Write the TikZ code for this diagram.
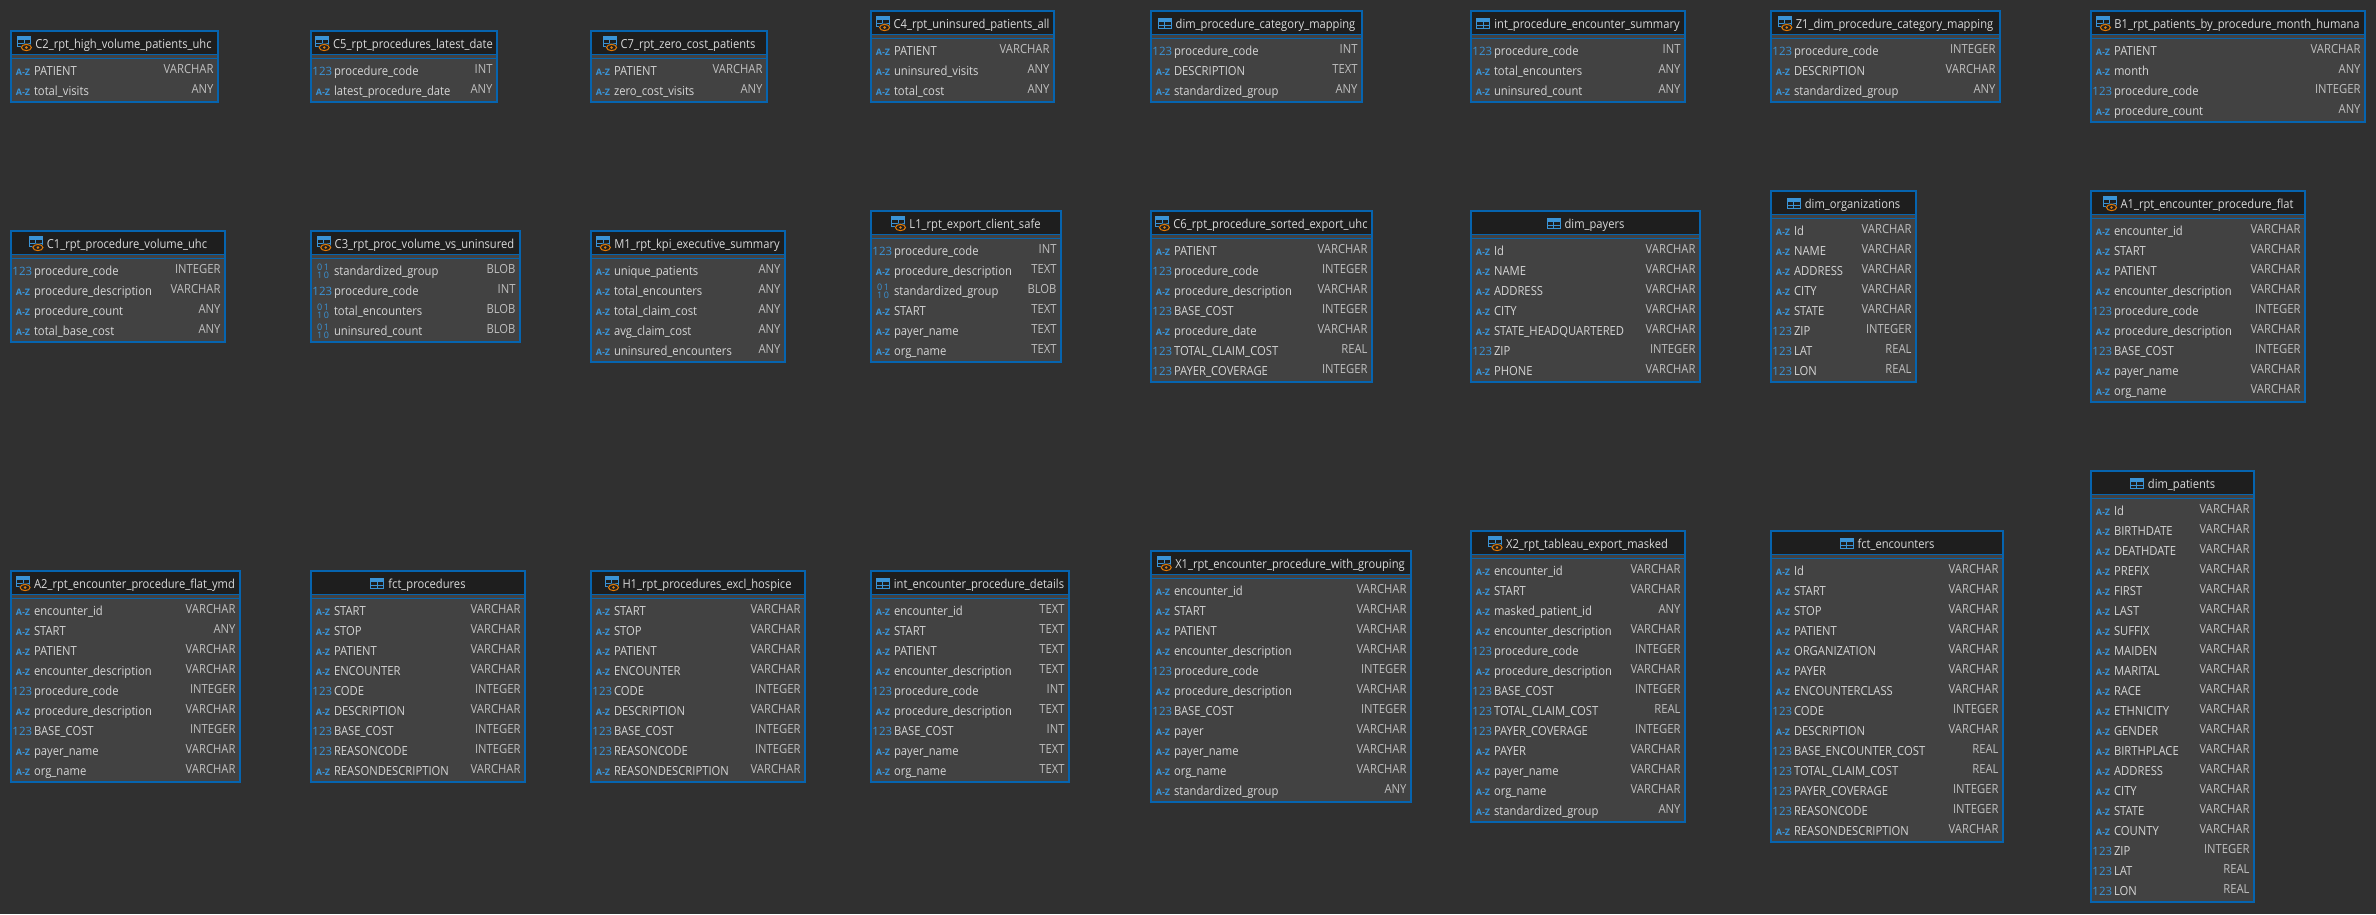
\documentclass[tikz,border=0pt]{standalone}
\usepackage{fontspec}
\setmainfont{Open Sans}[FakeStretch=0.9]
\newfontfamily\iconface{Open Sans}[FakeStretch=1.0]
\definecolor{canvasbg}{HTML}{303030}
\definecolor{bodybg}{HTML}{424242}
\definecolor{headbg}{HTML}{1E1E1E}
\definecolor{tblblue}{HTML}{0664AF}
\definecolor{iconblue}{HTML}{3A93D6}
\definecolor{iconorange}{HTML}{E07B0A}
\definecolor{nametxt}{HTML}{D6D6D6}
\definecolor{typetxt}{HTML}{C0C0C0}
\definecolor{titletxt}{HTML}{DADADA}
\tikzset{
  tablebox/.style={draw=tblblue,line width=2pt,fill=bodybg,rectangle,inner sep=0pt,outer sep=0pt,anchor=north west},
  headband/.style={fill=headbg,draw=none,rectangle,inner sep=0pt,outer sep=0pt,anchor=north west},
  tabletitle/.style={text=titletxt,font=\fontsize{12.4}{14}\selectfont,inner sep=0pt,outer sep=0pt,anchor=base},
  colname/.style={text=nametxt,font=\fontsize{12.5}{14}\selectfont,inner sep=0pt,outer sep=0pt,anchor=base west},
  coltype/.style={text=typetxt,font=\fontsize{12.5}{14}\selectfont,inner sep=0pt,outer sep=0pt,anchor=base east},
  azicon/.style={text=iconblue,font=\iconface\bfseries\fontsize{9}{10}\selectfont,inner sep=0pt,outer sep=0pt,anchor=base},
  numicon/.style={text=iconblue,font=\iconface\fontsize{11.5}{12}\selectfont,inner sep=0pt,outer sep=0pt,anchor=base},
  binicon/.style={text=iconblue,font=\iconface\fontsize{9}{10}\selectfont,inner sep=0pt,outer sep=0pt,anchor=base},
}
\newcommand{\iconrowa}[3]{\node[azicon] (#3) at (#1+13,#2-.3) {A-Z};}
\newcommand{\iconrown}[3]{\node[numicon] (#3) at (#1+12.3,#2+.3) {123};}
\newcommand{\iconrowb}[3]{%
  \node[binicon] (#3) at (#1+13,#2-5) {0\,1};
  \node[binicon] (#3x) at (#1+13,#2+2.5) {1\,0};}
% table glyph, drawn relative to the title's base west: top offset, height
\newcommand{\tableglyph}[2]{%
  \fill[iconblue] (-18,#1) rectangle ++(14,3.6);
  \draw[iconblue,line width=1pt] (-17.5,#1+1) rectangle (-4.5,#1+#2-.5);
  \draw[iconblue,line width=1pt] (-17.5,#1+3.6+#2/2-1.8) -- (-4.5,#1+3.6+#2/2-1.8)
     (-11,#1+3) -- (-11,#1+#2-.5);}
\newcommand{\viewglyph}{%
  \tableglyph{-12}{10.5}
  \fill[headbg] (-9,-.5) circle[x radius=6,y radius=4.2];
  \draw[iconorange,line width=1pt] (-9,-.5) circle[x radius=5,y radius=3.1];
  \fill[iconorange] (-9,-.5) circle[radius=1.4];}
% id, left, top, right, number of rows, kind (t or v), title, rows
\newcommand{\dbtable}[8]{%
  \pgfmathsetmacro{\tabw}{#4-#2-2}
  \pgfmathsetmacro{\tabh}{31+20*#5}
  \pgfmathsetmacro{\bandw}{#4-#2-4}
  \pgfmathsetmacro{\titlec}{(#2+#4)/2+9}
  \node[tablebox,minimum width=\tabw pt,minimum height=\tabh pt] (#1) at (#2+1,#3+1) {};
  \node[headband,minimum width=\bandw pt,minimum height=22.5pt] (#1-head) at (#2+2,#3+2) {};
  \draw[tblblue,line width=1.3pt] (#2+1,#3+24.6) -- (#4-1,#3+24.6) (#2+1,#3+28.5) -- (#4-1,#3+28.5);
  \node[tabletitle] (#1-title) at (\titlec,#3+18) {#7};
  \begin{scope}[shift={(#1-title.base west)}]
    \if#6v\viewglyph\else\tableglyph{-10}{11}\fi
  \end{scope}
  \foreach \k/\n/\t [count=\i] in {#8} {
    \pgfmathsetmacro{\rowy}{#3+45.5+20*(\i-1)}
    \node[colname] (#1-n\i) at (#2+24,\rowy) {\n};
    \node[coltype] (#1-t\i) at (#4-5.5,\rowy-2) {\t};
    \csname iconrow\k\endcsname{#2}{\rowy}{#1-i\i}
  }
}
\catcode`\_=12
\begin{document}
\begin{tikzpicture}[x=1pt,y=-1pt]
\fill[canvasbg] (0,0) rectangle (2376,914);
\useasboundingbox (0,0) rectangle (2376,914);
\dbtable{c2}{10}{30}{219}{2}{v}{C2_rpt_high_volume_patients_uhc}{a/PATIENT/VARCHAR,a/total_visits/ANY}
\dbtable{c5}{310}{30}{498}{2}{v}{C5_rpt_procedures_latest_date}{n/procedure_code/INT,a/latest_procedure_date/ANY}
\dbtable{c7}{590}{30}{768}{2}{v}{C7_rpt_zero_cost_patients}{a/PATIENT/VARCHAR,a/zero_cost_visits/ANY}
\dbtable{c4}{870}{10}{1055}{3}{v}{C4_rpt_uninsured_patients_all}{a/PATIENT/VARCHAR,a/uninsured_visits/ANY,a/total_cost/ANY}
\dbtable{dpcm}{1150}{10}{1363}{3}{t}{dim_procedure_category_mapping}{n/procedure_code/INT,a/DESCRIPTION/TEXT,a/standardized_group/ANY}
\dbtable{ipes}{1470}{10}{1686}{3}{t}{int_procedure_encounter_summary}{n/procedure_code/INT,a/total_encounters/ANY,a/uninsured_count/ANY}
\dbtable{z1}{1770}{10}{2001}{3}{v}{Z1_dim_procedure_category_mapping}{n/procedure_code/INTEGER,a/DESCRIPTION/VARCHAR,a/standardized_group/ANY}
\dbtable{b1}{2090}{10}{2366}{4}{v}{B1_rpt_patients_by_procedure_month_humana}{a/PATIENT/VARCHAR,a/month/ANY,n/procedure_code/INTEGER,a/procedure_count/ANY}
\dbtable{c1}{10}{230}{226}{4}{v}{C1_rpt_procedure_volume_uhc}{n/procedure_code/INTEGER,a/procedure_description/VARCHAR,a/procedure_count/ANY,a/total_base_cost/ANY}
\dbtable{c3}{310}{230}{521}{4}{v}{C3_rpt_proc_volume_vs_uninsured}{b/standardized_group/BLOB,n/procedure_code/INT,b/total_encounters/BLOB,b/uninsured_count/BLOB}
\dbtable{m1}{590}{230}{786}{5}{v}{M1_rpt_kpi_executive_summary}{a/unique_patients/ANY,a/total_encounters/ANY,a/total_claim_cost/ANY,a/avg_claim_cost/ANY,a/uninsured_encounters/ANY}
\dbtable{l1}{870}{210}{1062}{6}{v}{L1_rpt_export_client_safe}{n/procedure_code/INT,a/procedure_description/TEXT,b/standardized_group/BLOB,a/START/TEXT,a/payer_name/TEXT,a/org_name/TEXT}
\dbtable{c6}{1150}{210}{1373}{7}{v}{C6_rpt_procedure_sorted_export_uhc}{a/PATIENT/VARCHAR,n/procedure_code/INTEGER,a/procedure_description/VARCHAR,n/BASE_COST/INTEGER,a/procedure_date/VARCHAR,n/TOTAL_CLAIM_COST/REAL,n/PAYER_COVERAGE/INTEGER}
\dbtable{dpay}{1470}{210}{1701}{7}{t}{dim_payers}{a/Id/VARCHAR,a/NAME/VARCHAR,a/ADDRESS/VARCHAR,a/CITY/VARCHAR,a/STATE_HEADQUARTERED/VARCHAR,n/ZIP/INTEGER,a/PHONE/VARCHAR}
\dbtable{dorg}{1770}{190}{1917}{8}{t}{dim_organizations}{a/Id/VARCHAR,a/NAME/VARCHAR,a/ADDRESS/VARCHAR,a/CITY/VARCHAR,a/STATE/VARCHAR,n/ZIP/INTEGER,n/LAT/REAL,n/LON/REAL}
\dbtable{a1}{2090}{190}{2306}{9}{v}{A1_rpt_encounter_procedure_flat}{a/encounter_id/VARCHAR,a/START/VARCHAR,a/PATIENT/VARCHAR,a/encounter_description/VARCHAR,n/procedure_code/INTEGER,a/procedure_description/VARCHAR,n/BASE_COST/INTEGER,a/payer_name/VARCHAR,a/org_name/VARCHAR}
\dbtable{a2}{10}{570}{241}{9}{v}{A2_rpt_encounter_procedure_flat_ymd}{a/encounter_id/VARCHAR,a/START/ANY,a/PATIENT/VARCHAR,a/encounter_description/VARCHAR,n/procedure_code/INTEGER,a/procedure_description/VARCHAR,n/BASE_COST/INTEGER,a/payer_name/VARCHAR,a/org_name/VARCHAR}
\dbtable{fp}{310}{570}{526}{9}{t}{fct_procedures}{a/START/VARCHAR,a/STOP/VARCHAR,a/PATIENT/VARCHAR,a/ENCOUNTER/VARCHAR,n/CODE/INTEGER,a/DESCRIPTION/VARCHAR,n/BASE_COST/INTEGER,n/REASONCODE/INTEGER,a/REASONDESCRIPTION/VARCHAR}
\dbtable{h1}{590}{570}{806}{9}{v}{H1_rpt_procedures_excl_hospice}{a/START/VARCHAR,a/STOP/VARCHAR,a/PATIENT/VARCHAR,a/ENCOUNTER/VARCHAR,n/CODE/INTEGER,a/DESCRIPTION/VARCHAR,n/BASE_COST/INTEGER,n/REASONCODE/INTEGER,a/REASONDESCRIPTION/VARCHAR}
\dbtable{iepd}{870}{570}{1070}{9}{t}{int_encounter_procedure_details}{a/encounter_id/TEXT,a/START/TEXT,a/PATIENT/TEXT,a/encounter_description/TEXT,n/procedure_code/INT,a/procedure_description/TEXT,n/BASE_COST/INT,a/payer_name/TEXT,a/org_name/TEXT}
\dbtable{x1}{1150}{550}{1412}{11}{v}{X1_rpt_encounter_procedure_with_grouping}{a/encounter_id/VARCHAR,a/START/VARCHAR,a/PATIENT/VARCHAR,a/encounter_description/VARCHAR,n/procedure_code/INTEGER,a/procedure_description/VARCHAR,n/BASE_COST/INTEGER,a/payer/VARCHAR,a/payer_name/VARCHAR,a/org_name/VARCHAR,a/standardized_group/ANY}
\dbtable{x2}{1470}{530}{1686}{13}{v}{X2_rpt_tableau_export_masked}{a/encounter_id/VARCHAR,a/START/VARCHAR,a/masked_patient_id/ANY,a/encounter_description/VARCHAR,n/procedure_code/INTEGER,a/procedure_description/VARCHAR,n/BASE_COST/INTEGER,n/TOTAL_CLAIM_COST/REAL,n/PAYER_COVERAGE/INTEGER,a/PAYER/VARCHAR,a/payer_name/VARCHAR,a/org_name/VARCHAR,a/standardized_group/ANY}
\dbtable{fe}{1770}{530}{2004}{14}{t}{fct_encounters}{a/Id/VARCHAR,a/START/VARCHAR,a/STOP/VARCHAR,a/PATIENT/VARCHAR,a/ORGANIZATION/VARCHAR,a/PAYER/VARCHAR,a/ENCOUNTERCLASS/VARCHAR,n/CODE/INTEGER,a/DESCRIPTION/VARCHAR,n/BASE_ENCOUNTER_COST/REAL,n/TOTAL_CLAIM_COST/REAL,n/PAYER_COVERAGE/INTEGER,n/REASONCODE/INTEGER,a/REASONDESCRIPTION/VARCHAR}
\dbtable{dpat}{2090}{470}{2255}{20}{t}{dim_patients}{a/Id/VARCHAR,a/BIRTHDATE/VARCHAR,a/DEATHDATE/VARCHAR,a/PREFIX/VARCHAR,a/FIRST/VARCHAR,a/LAST/VARCHAR,a/SUFFIX/VARCHAR,a/MAIDEN/VARCHAR,a/MARITAL/VARCHAR,a/RACE/VARCHAR,a/ETHNICITY/VARCHAR,a/GENDER/VARCHAR,a/BIRTHPLACE/VARCHAR,a/ADDRESS/VARCHAR,a/CITY/VARCHAR,a/STATE/VARCHAR,a/COUNTY/VARCHAR,n/ZIP/INTEGER,n/LAT/REAL,n/LON/REAL}
\end{tikzpicture}
\end{document}
